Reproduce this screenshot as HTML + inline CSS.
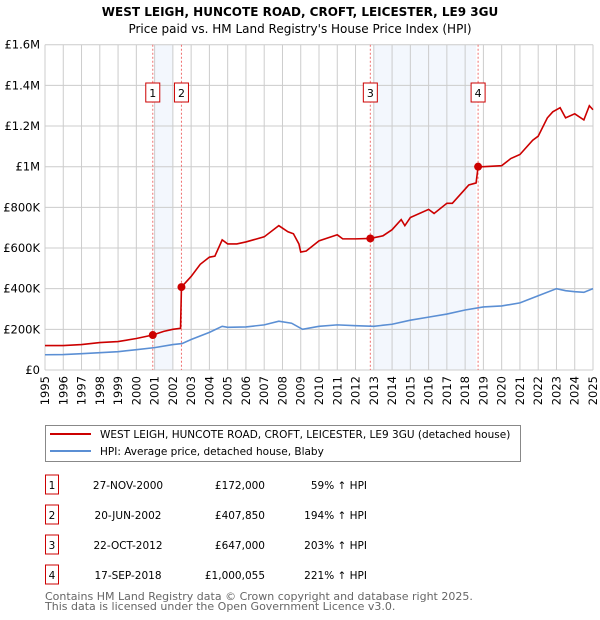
<!DOCTYPE html>
<html><head><meta charset="utf-8"><style>
body{margin:0;background:#fff;font-family:"DejaVu Sans","Liberation Sans",sans-serif;}
svg{display:block}
</style></head><body>
<svg width="600" height="620" font-family="DejaVu Sans, Liberation Sans, sans-serif">
<text x="300" y="16" text-anchor="middle" font-size="12" font-weight="bold">WEST LEIGH, HUNCOTE ROAD, CROFT, LEICESTER, LE9 3GU</text>
<text x="300" y="33" text-anchor="middle" font-size="12">Price paid vs. HM Land Registry's House Price Index (HPI)</text>
<g id="plot"></g>
<g>
<rect x="45.5" y="425.5" width="475" height="36" fill="#fff" stroke="#888"/>
<line x1="50" y1="434" x2="91" y2="434" stroke="#cc0000" stroke-width="2"/>
<text x="100" y="438" font-size="10.5">WEST LEIGH, HUNCOTE ROAD, CROFT, LEICESTER, LE9 3GU (detached house)</text>
<line x1="50" y1="451" x2="91" y2="451" stroke="#5b8fd4" stroke-width="2"/>
<text x="100" y="455" font-size="10.5">HPI: Average price, detached house, Blaby</text>
</g>
<g id="table" font-size="10.5"></g>
<text x="45" y="600" font-size="11" fill="#666">Contains HM Land Registry data © Crown copyright and database right 2025.</text>
<text x="45" y="610" font-size="11" fill="#666">This data is licensed under the Open Government Licence v3.0.</text>
</svg>
<script>
const hpiYears=[1995,1996,1997,1998,1999,2000,2001,2002,2002.5,2003,2004,2004.7,2005,2006,2007,2007.8,2008.5,2009.1,2010,2011,2012,2013,2014,2015,2016,2017,2018,2019,2020,2021,2022,2023,2023.5,2024,2024.5,2025];
const hpiValues=[75,76,80,85,90,100,110,125,130,150,185,215,210,212,222,240,230,200,215,222,218,215,225,245,260,275,295,310,315,330,365,400,390,385,382,400];
const priceYears=[1995,1996,1997,1998,1999,2000,2000.9,2001.5,2002.0,2002.42,2002.47,2003,2003.5,2004,2004.3,2004.7,2005,2005.5,2006,2007,2007.8,2008.3,2008.6,2008.9,2009.0,2009.3,2010,2011,2011.3,2012,2012.8,2013.5,2014,2014.5,2014.7,2015,2016,2016.3,2017,2017.3,2018,2018.2,2018.6,2018.71,2019,2020,2020.5,2021,2021.7,2022,2022.5,2022.8,2023.2,2023.5,2024,2024.5,2024.8,2025];
const priceValues=[120,120,125,135,140,155,172,190,200,205,408,460,520,555,560,640,620,620,630,655,710,680,670,620,580,585,635,665,645,645,647,660,690,740,710,750,790,770,820,820,890,910,920,1000,1000,1005,1040,1060,1130,1150,1240,1270,1290,1240,1260,1230,1300,1280];
const saleYears=[2000.9,2002.47,2012.81,2018.71];
const saleValues=[172,407.85,647,1000.055];
const saleLabels=["1","2","3","4"];
const saleDates=["27-NOV-2000","20-JUN-2002","22-OCT-2012","17-SEP-2018"];
const salePrices=["£172,000","£407,850","£647,000","£1,000,055"];
const salePct=["59% ↑ HPI","194% ↑ HPI","203% ↑ HPI","221% ↑ HPI"];
const shadeRanges=[[2001.0,2002.0],[2013.0,2018.6]];
const yTicks=[0,200,400,600,800,1000,1200,1400,1600];
const yTickLabels=["£0","£200K","£400K","£600K","£800K","£1M","£1.2M","£1.4M","£1.6M"];
const xTicks=[];for(let y=1995;y<=2025;y++)xTicks.push(y);

const NS="http://www.w3.org/2000/svg";
const X0=45,X1=593,Y0=370,Y1=44.7;
const xs=v=>X0+(v-1995)/30*(X1-X0);
const ys=v=>Y0-v/1600*(Y0-Y1);
const plot=document.getElementById('plot');
function mk(t,a,p){const e=document.createElementNS(NS,t);for(const k in a)e.setAttribute(k,a[k]);(p||plot).appendChild(e);return e;}
shadeRanges.forEach(r=>{const e=mk('rect',{x:xs(r[0]),y:Y1,width:xs(r[1])-xs(r[0]),height:Y0-Y1,fill:'#eef3fc',opacity:0.7});

});
xTicks.forEach(t=>{const e=mk('line',{x1:xs(t),x2:xs(t),y1:Y1,y2:Y0,stroke:'#ccc'});


const tx=mk('text',{transform:`translate(${xs(t)+4},376) rotate(-90)`,'text-anchor':'end','font-size':'11.5'});tx.textContent=t;

});
yTicks.forEach((t,i)=>{const e=mk('line',{x1:X0,x2:X1,y1:ys(t),y2:ys(t),stroke:'#ccc'});


const tx=mk('text',{x:40,y:ys(t)+4,'text-anchor':'end','font-size':'11.5'});tx.textContent=yTickLabels[i];

});
saleYears.forEach((s,i)=>{const e=mk('line',{x1:xs(s),x2:xs(s),y1:Y1,y2:Y0,stroke:'#f07070','stroke-dasharray':'2,2'});


const b=mk('rect',{x:xs(s)-7,y:83,width:14,height:19,fill:'#fff',stroke:'#cc0000'});


const tx=mk('text',{x:xs(s),y:97,'text-anchor':'middle','font-size':'11'});tx.textContent=saleLabels[i];

});
const hp=mk('polyline',{points:hpiYears.map((y,i)=>xs(y)+','+ys(hpiValues[i])).join(' '),fill:'none',stroke:'#5b8fd4','stroke-width':1.6});


const pp=mk('polyline',{points:priceYears.map((y,i)=>xs(y)+','+ys(priceValues[i])).join(' '),fill:'none',stroke:'#cc0000','stroke-width':1.6});


saleYears.forEach((s,i)=>{const c=mk('circle',{cx:xs(s),cy:ys(saleValues[i]),r:4,fill:'#cc0000'});

});
const tb=document.getElementById('table');
saleLabels.forEach((l,i)=>{const y=485+i*30;
const b=mk('rect',{x:45.5,y:y-10,width:13,height:19,fill:'#fff',stroke:'#cc0000'},tb);


const cells=[[52,'middle',l],[128,'middle',saleDates[i]],[265,'end',salePrices[i]],[367,'end',salePct[i]]];
cells.forEach(c=>{const t=mk('text',{x:c[0],y:y+4,'text-anchor':c[1]},tb);t.textContent=c[2];

});});
</script>
</body></html>
